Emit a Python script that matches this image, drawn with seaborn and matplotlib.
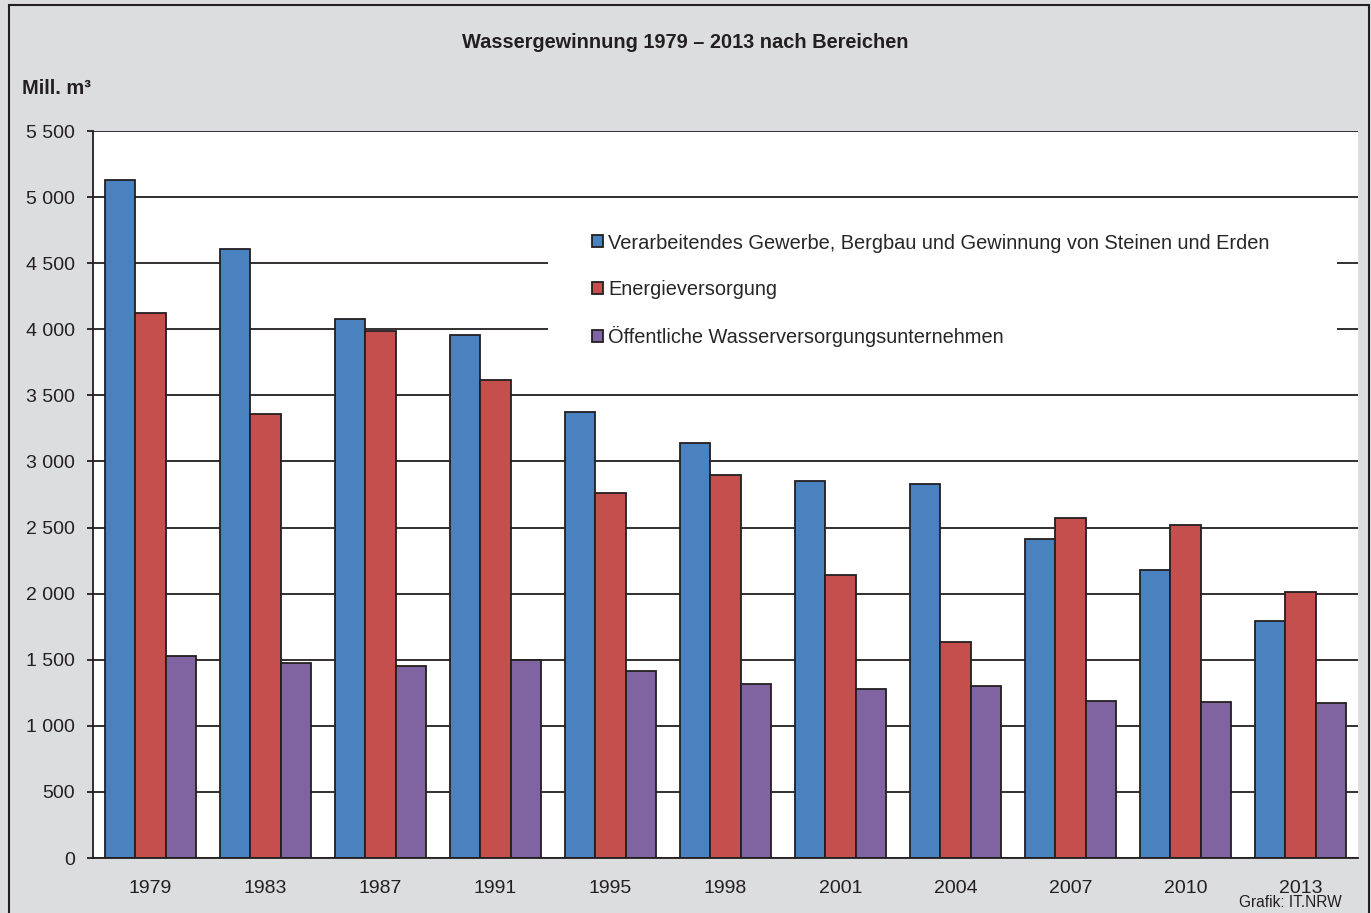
import seaborn as sns
import matplotlib.pyplot as plt
import pandas as pd
from matplotlib.patches import Rectangle
from matplotlib.ticker import FuncFormatter

# data (Mill. m3)
years = ["1979", "1983", "1987", "1991", "1995", "1998", "2001", "2004", "2007", "2010", "2013"]
gewerbe = [5127, 4606, 4076, 3955, 3371, 3141, 2851, 2826, 2414, 2182, 1793]
energie = [4121, 3356, 3985, 3619, 2763, 2896, 2144, 1631, 2571, 2523, 2015]
oeffentlich = [1528, 1472, 1455, 1495, 1417, 1318, 1280, 1298, 1189, 1180, 1172]

series = [
    "Verarbeitendes Gewerbe, Bergbau und Gewinnung von Steinen und Erden",
    "Energieversorgung",
    "Öffentliche Wasserversorgungsunternehmen",
]
colors = ["#4A81BF", "#C44F4C", "#8064A2"]

df = pd.DataFrame({
    "Jahr": years * 3,
    "Bereich": [series[0]] * len(years) + [series[1]] * len(years) + [series[2]] * len(years),
    "Wert": gewerbe + energie + oeffentlich,
})

sns.set_style("white")
plt.rcParams["font.family"] = ["Liberation Sans", "DejaVu Sans"]

fig = plt.figure(figsize=(13.71, 9.13), dpi=100, facecolor="#DCDDDF")
ax = fig.add_axes([93 / 1371, 1 - 858 / 913, 1265 / 1371, 727 / 913])
ax.set_facecolor("white")

sns.barplot(data=df, x="Jahr", y="Wert", hue="Bereich", hue_order=series,
            palette=colors, saturation=1, width=0.79, edgecolor="#231F20",
            linewidth=1.3, ax=ax, legend=True)

ax.set_xlim(-0.5, len(years) - 0.5)
ax.set_ylim(0, 5500)
ax.set_yticks(range(0, 5501, 500))
ax.yaxis.set_major_formatter(FuncFormatter(lambda v, p: f"{int(v):,}".replace(",", " ")))
ax.yaxis.grid(True, color="#231F20", linewidth=1.3)
ax.set_axisbelow(True)
ax.set_xlabel("")
ax.set_ylabel("")

for s in ["top", "right"]:
    ax.spines[s].set_visible(False)
for s in ["left", "bottom"]:
    ax.spines[s].set_color("#231F20")
    ax.spines[s].set_linewidth(1.3)

ax.tick_params(axis="y", left=True, length=4, width=1.3, color="#231F20",
               pad=9, labelsize=14, labelcolor="#231F20")
ax.tick_params(axis="x", bottom=False, pad=12, labelsize=14, labelcolor="#231F20")

# white box behind the legend, hiding the gridlines there
ax.add_patch(Rectangle((0.3597, 0.685), 0.6237, 0.206, transform=ax.transAxes,
                       facecolor="white", edgecolor="none", zorder=0.8))

ax.legend(loc="upper left", bbox_to_anchor=(0.3945, 0.859), frameon=False,
          fontsize=14.4, handlelength=0.55, handleheight=0.55,
          handletextpad=0.25, labelspacing=1.36, borderpad=0, borderaxespad=0)

fig.text(0.4996, 1 - 43 / 913, "Wassergewinnung 1979 – 2013 nach Bereichen",
         ha="center", va="center", fontsize=14.4, fontweight="bold", color="#231F20")
fig.text(22 / 1371, 1 - 88 / 913, "Mill. m³", ha="left", va="center",
         fontsize=14.4, fontweight="bold", color="#231F20")
fig.text(1342 / 1371, 1 - 902 / 913, "Grafik: IT.NRW", ha="right", va="center",
         fontsize=11.2, color="#231F20")

fig.patches.append(Rectangle((9 / 1371, -0.01), 1360 / 1371, 1.01 - 5 / 913,
                             transform=fig.transFigure, fill=False,
                             edgecolor="#231F20", linewidth=1.5))

fig.savefig("out.png", dpi=100, facecolor=fig.get_facecolor())
